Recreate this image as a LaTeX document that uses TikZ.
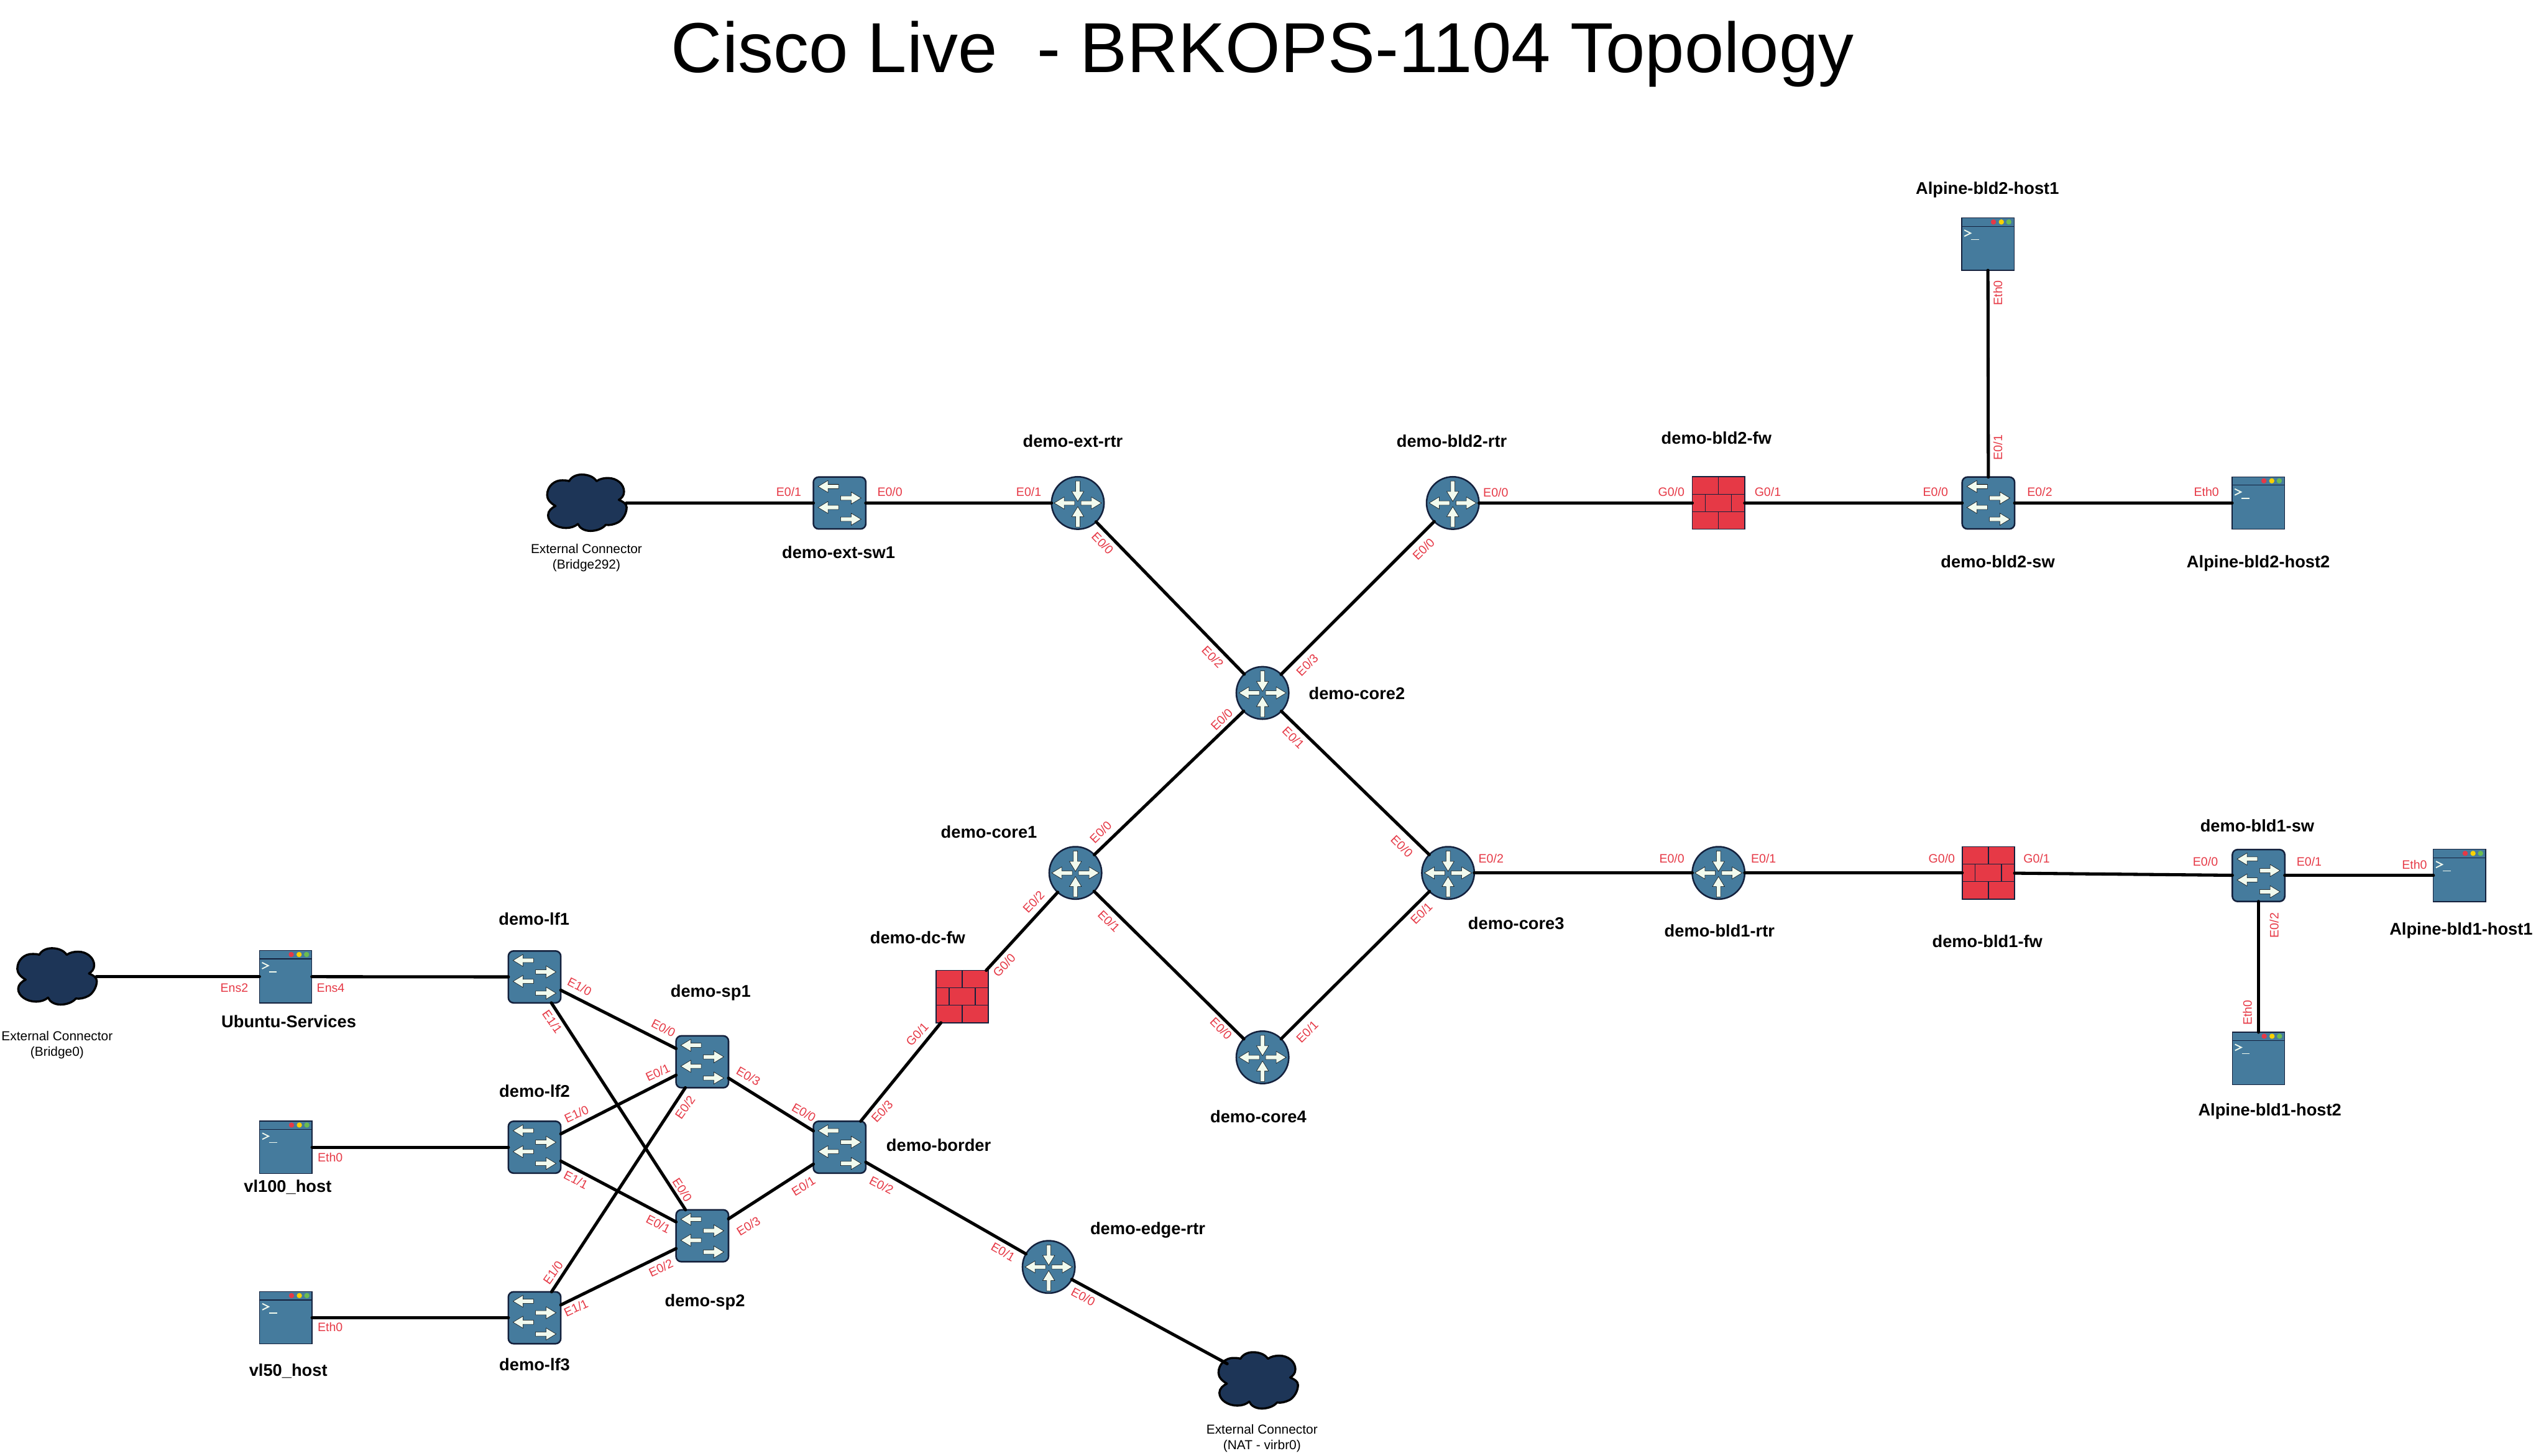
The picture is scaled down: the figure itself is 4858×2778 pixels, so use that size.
\documentclass[tikz,border=0pt]{standalone}
\usepackage{fontspec}
\setmainfont{Liberation Sans}
\usetikzlibrary{shapes.geometric}
\definecolor{devblue}{HTML}{457B9D}
\definecolor{devdark}{HTML}{14213D}
\definecolor{fwred}{HTML}{E63946}
\definecolor{portred}{HTML}{E63946}
\definecolor{cloudnavy}{HTML}{1D3557}
\definecolor{iconwhite}{HTML}{F1FAEE}
\definecolor{dotyellow}{HTML}{F9D100}
\definecolor{dotgreen}{HTML}{6CBC4F}
\tikzset{
  switchbox/.style={draw=devdark,fill=devblue,line width=0.03cm,rectangle,rounded corners=0.1cm,minimum width=1cm,minimum height=0.99cm,inner sep=0pt,outer sep=0pt},
  routerbox/.style={draw=devdark,fill=devblue,line width=0.03cm,circle,minimum size=1cm,inner sep=0pt,outer sep=0pt},
  hostbox/.style={draw=devdark,fill=devblue,line width=0.017cm,rectangle,minimum width=1cm,minimum height=1cm,inner sep=0pt,outer sep=0pt},
  fwbox/.style={draw=devdark,fill=fwred,line width=0.02cm,rectangle,minimum width=1cm,minimum height=1cm,inner sep=0pt,outer sep=0pt},
  cloudbox/.style={ellipse,minimum width=1.5cm,minimum height=1.06cm,inner sep=0pt,outer sep=0pt},
  devname/.style={font=\fontsize{9.2pt}{11pt}\selectfont\bfseries,text=black,inner sep=0pt,text height=6.7pt,text depth=0pt},
  portname/.style={font=\fontsize{6.6pt}{8pt}\selectfont,text=portred,inner sep=0pt,text height=4.75pt,text depth=0pt},
  cloudname/.style={font=\fontsize{7.05pt}{8.5pt}\selectfont,text=black,inner sep=0pt,align=center},
  titlename/.style={font=\fontsize{38.4pt}{44pt}\selectfont,text=black,inner sep=0pt,text height=27.6pt,text depth=0pt},
  link/.style={draw=black,line width=0.06cm,line cap=round},
  iconarrow/.style={draw=black,fill=iconwhite,line width=0.006cm,line join=miter},
  fwline/.style={draw=devdark,line width=0.015cm},
  cloudshape/.style={draw=black,fill=cloudnavy,line width=0.04cm,line join=round},
}
\newcommand{\ArrowL}[2]{\draw[iconarrow] (#1,#2) -- ++(19,-11.5) -- ++(0,7.5) -- ++(20,0) -- ++(0,8) -- ++(-20,0) -- ++(0,7.5) -- cycle;}
\newcommand{\ArrowR}[2]{\draw[iconarrow] (#1,#2) -- ++(-19,-11.5) -- ++(0,7.5) -- ++(-20,0) -- ++(0,8) -- ++(20,0) -- ++(0,7.5) -- cycle;}
\newcommand{\ArrowU}[2]{\draw[iconarrow] (#1,#2) -- ++(-11.5,19) -- ++(7.5,0) -- ++(0,20) -- ++(8,0) -- ++(0,-20) -- ++(7.5,0) -- cycle;}
\newcommand{\ArrowD}[2]{\draw[iconarrow] (#1,#2) -- ++(-11.5,-19) -- ++(7.5,0) -- ++(0,-20) -- ++(8,0) -- ++(0,20) -- ++(7.5,0) -- cycle;}
\newcommand{\switchicon}[1]{\begin{scope}[shift={(#1)}]\ArrowL{-41}{-31.5}\ArrowR{41}{-9.5}\ArrowL{-41}{8.5}\ArrowR{41}{31}\end{scope}}
\newcommand{\routericon}[1]{\begin{scope}[shift={(#1)}]\ArrowD{0}{-3}\ArrowU{0}{7}\ArrowL{-45}{0}\ArrowR{45}{0}\end{scope}}
\newcommand{\hosticon}[1]{\begin{scope}[shift={(#1)}]
  \draw[devdark,line width=0.015cm] (-50,-34) -- (50,-34);
  \fill[fwred] (10.7,-42.3) circle (5);
  \fill[dotyellow] (25.7,-42.3) circle (5);
  \fill[dotgreen] (40,-42.3) circle (5);
  \draw[iconwhite,line width=0.022cm] (-45,-27) -- (-33,-21) -- (-45,-15);
  \draw[iconwhite,line width=0.018cm] (-32,-9) -- (-17,-9);
\end{scope}}
\newcommand{\fwicon}[1]{\begin{scope}[shift={(#1)}]
  \draw[fwline] (-50,-16.7) -- (50,-16.7) (-50,16.7) -- (50,16.7);
  \draw[fwline] (0,-50) -- (0,-16.7) (0,16.7) -- (0,50);
  \draw[fwline] (-25,-16.7) -- (-25,16.7) (25,-16.7) -- (25,16.7);
\end{scope}}
\newcommand{\cloudicon}[1]{\begin{scope}[shift={(#1)}]
  \draw[cloudshape] (-60,5.7) .. controls (-70,0) and (-76,-7) .. (-76,-15)
   .. controls (-76,-32) and (-62,-44) .. (-46.7,-43.3)
   .. controls (-42,-43.3) and (-37,-43) .. (-34,-41.7)
   .. controls (-30,-50) and (-20,-54.3) .. (-10,-54.3)
   .. controls (2,-54.3) and (13,-50) .. (18.3,-41.7)
   .. controls (24,-46) and (32,-47.7) .. (40,-47.7)
   .. controls (57,-47.7) and (70.7,-36) .. (70.7,-21.7)
   .. controls (70.7,-14) and (66,-9) .. (60.7,-6)
   .. controls (68,-3) and (75.7,1) .. (75.7,8.3)
   .. controls (75.7,20) and (68,32) .. (60,36.7)
   .. controls (52,41) and (43,43) .. (35.7,41.7)
   .. controls (30,49) and (18,53.3) .. (6.7,53.3)
   .. controls (-5,53.3) and (-14,48) .. (-17.3,40)
   .. controls (-23,45) and (-31,47.7) .. (-40,47.7)
   .. controls (-58,47.7) and (-74.3,37) .. (-74.3,23.3)
   .. controls (-74.3,15) and (-67,9) .. (-60,5.7) -- cycle;
\end{scope}}
\newcounter{portc}
\newcommand{\portlbl}[4]{\stepcounter{portc}\node[portname,rotate=#3] (port\arabic{portc}) at (#1,#2) {#4};}
\newcommand{\devlbl}[4]{\node[devname] (#1) at (#2,#3) {#4};}
\begin{document}
\begin{tikzpicture}[x=0.01cm,y=-0.01cm]
\useasboundingbox (0,0) rectangle (4858,2778);
\fill[white] (0,0) rectangle (4858,2778);
\node[titlename] (title) at (2409,90) {Cisco Live\ \ - BRKOPS-1104 Topology};
% clouds
\node[cloudbox] (cloudA) at (109,1864) {};
\node[cloudbox] (cloudB) at (1120,960) {};
\node[cloudbox] (cloudC) at (2401,2635) {};
\cloudicon{cloudA}\cloudicon{cloudB}\cloudicon{cloudC}
% switches
\foreach \n/\x/\y in {lfA/1020/1864.5, lfB/1020/2189.5, lfC/1020/2515, spA/1340/2026.5, spB/1340/2358.5, border/1602/2189.5, extsw/1602/960, bldBsw/3794/960, bldAsw/4309.5/1671}{
  \node[switchbox] (\n) at (\x,\y) {};
  \switchicon{\n}
}
% routers
\foreach \n/\x/\y in {extrtr/2056.5/960, bldBrtr/2772/960, coreB/2409/1322.5, coreA/2052/1666, coreC/2763/1666, coreD/2409/2018, bldArtr/3279/1666, edgertr/2001/2418}{
  \node[routerbox] (\n) at (\x,\y) {};
  \routericon{\n}
}
% firewalls
\foreach \n/\x/\y in {dcfw/1836/1902, bldBfw/3279/960, bldAfw/3794/1666}{
  \node[fwbox] (\n) at (\x,\y) {};
  \fwicon{\n}
}
% hosts
\foreach \n/\x/\y in {ubuntu/545/1864, vlC/545.5/2189.5, vlD/545.5/2515, hostBa/3793/466, hostBb/4309/960, hostAa/4693/1671, hostAb/4309.5/2020}{
  \node[hostbox] (\n) at (\x,\y) {};
  \hosticon{\n}
}
% connectors
\draw[link] (cloudA) -- (ubuntu);
\draw[link] (ubuntu) -- (lfA);
\draw[link] (vlC) -- (lfB);
\draw[link] (vlD) -- (lfC);
\draw[link] (lfA) -- (spA);
\draw[link] (lfA) -- (spB);
\draw[link] (lfB) -- (spA);
\draw[link] (lfB) -- (spB);
\draw[link] (lfC) -- (spA);
\draw[link] (lfC) -- (spB);
\draw[link] (spA) -- (border);
\draw[link] (spB) -- (border);
\draw[link] (border) -- (dcfw);
\draw[link] (border) -- (edgertr);
\draw[link] (edgertr) -- (cloudC);
\draw[link] (dcfw) -- (coreA);
\draw[link] (coreA) -- (coreB);
\draw[link] (coreA) -- (coreD);
\draw[link] (coreB) -- (coreC);
\draw[link] (coreD) -- (coreC);
\draw[link] (coreB) -- (extrtr);
\draw[link] (coreB) -- (bldBrtr);
\draw[link] (cloudB) -- (extsw);
\draw[link] (extsw) -- (extrtr);
\draw[link] (bldBrtr) -- (bldBfw);
\draw[link] (bldBfw) -- (bldBsw);
\draw[link] (bldBsw) -- (hostBa);
\draw[link] (bldBsw) -- (hostBb);
\draw[link] (coreC) -- (bldArtr);
\draw[link] (bldArtr) -- (bldAfw);
\draw[link] (bldAfw) -- (bldAsw);
\draw[link] (bldAsw) -- (hostAa);
\draw[link] (bldAsw) -- (hostAb);
% cloud labels
\node[cloudname] (cloudAlbl) at (109,1994) {External Connector\\(Bridge0)};
\node[cloudname] (cloudBlbl) at (1119,1065) {External Connector\\(Bridge292)};
\node[cloudname] (cloudClbl) at (2408,2745) {External Connector\\(NAT - virbr0)};
% device labels
\devlbl{nLfA}{1019}{1754}{demo-lf1}
\devlbl{nSpA}{1356}{1891}{demo-sp1}
\devlbl{nLfB}{1020}{2082}{demo-lf2}
\devlbl{nSpB}{1345}{2482}{demo-sp2}
\devlbl{nLfC}{1020}{2604}{demo-lf3}
\devlbl{nBorder}{1791}{2185}{demo-border}
\devlbl{nDcfw}{1751}{1789}{demo-dc-fw}
\devlbl{nCoreA}{1887}{1587}{demo-core1}
\devlbl{nCoreB}{2589}{1323.5}{demo-core2}
\devlbl{nCoreC}{2893}{1762}{demo-core3}
\devlbl{nCoreD}{2401}{2131}{demo-core4}
\devlbl{nEdge}{2190}{2344}{demo-edge-rtr}
\devlbl{nExtsw}{1600}{1054}{demo-ext-sw1}
\devlbl{nExtrtr}{2047}{842}{demo-ext-rtr}
\devlbl{nBldBrtr}{2770}{841}{demo-bld2-rtr}
\devlbl{nBldBfw}{3275}{836}{demo-bld2-fw}
\devlbl{nBldBsw}{3812}{1072}{demo-bld2-sw}
\devlbl{nHostBa}{3792}{359}{Alpine-bld2-host1}
\devlbl{nHostBb}{4309}{1072}{Alpine-bld2-host2}
\devlbl{nBldArtr}{3281}{1776}{demo-bld1-rtr}
\devlbl{nBldAfw}{3792}{1796}{demo-bld1-fw}
\devlbl{nBldAsw}{4307}{1576}{demo-bld1-sw}
\devlbl{nHostAa}{4696}{1773}{Alpine-bld1-host1}
\devlbl{nHostAb}{4331}{2118}{Alpine-bld1-host2}
\devlbl{nUbuntu}{551}{1949}{Ubuntu-Services}
\devlbl{nVlC}{549}{2264}{vl100\_host}
\devlbl{nVlD}{550}{2615}{vl50\_host}
% port labels
\portlbl{447}{1885}{0}{Ens2}
\portlbl{631}{1885}{0}{Ens4}
\portlbl{630}{2209}{0}{Eth0}
\portlbl{630}{2533}{0}{Eth0}
\portlbl{1106}{1883}{-27}{E1/0}
\portlbl{1054}{1950}{-55}{E1/1}
\portlbl{1266}{1962}{-27}{E0/0}
\portlbl{1255}{2047}{25}{E0/1}
\portlbl{1428}{2054}{-30}{E0/3}
\portlbl{1307}{2113}{55}{E0/2}
\portlbl{1534}{2123}{-30}{E0/0}
\portlbl{1683}{2121}{47}{E0/3}
\portlbl{1100}{2126}{25}{E1/0}
\portlbl{1099}{2252}{-27}{E1/1}
\portlbl{1302}{2271}{-57}{E0/0}
\portlbl{1256}{2336}{-27}{E0/1}
\portlbl{1533}{2264}{32}{E0/1}
\portlbl{1682}{2262}{-27}{E0/2}
\portlbl{1428}{2340}{32}{E0/3}
\portlbl{1261}{2420}{25}{E0/2}
\portlbl{1055}{2429}{55}{E1/0}
\portlbl{1099}{2496}{25}{E1/1}
\portlbl{1750}{1974}{47}{G0/1}
\portlbl{1916}{1842}{47}{G0/0}
\portlbl{1972}{1721}{47}{E0/2}
\portlbl{2100}{1588}{45}{E0/0}
\portlbl{2116}{1758}{-45}{E0/1}
\portlbl{2331}{1373}{45}{E0/0}
\portlbl{2468}{1408}{-45}{E0/1}
\portlbl{2314}{1254}{-46}{E0/2}
\portlbl{2494}{1269}{45}{E0/3}
\portlbl{2330}{1963}{-45}{E0/0}
\portlbl{2494}{1969}{45}{E0/1}
\portlbl{2675}{1615}{-45}{E0/0}
\portlbl{2712}{1743}{45}{E0/1}
\portlbl{2845}{1639}{0}{E0/2}
\portlbl{3190}{1639}{0}{E0/0}
\portlbl{3365}{1639}{0}{E0/1}
\portlbl{3705}{1639}{0}{G0/0}
\portlbl{3886}{1639}{0}{G0/1}
\portlbl{4208}{1644}{0}{E0/0}
\portlbl{4406}{1644}{0}{E0/1}
\portlbl{4607}{1650}{0}{Eth0}
\portlbl{4339}{1766}{90}{E0/2}
\portlbl{4288}{1933}{90}{Eth0}
\portlbl{1505}{939}{0}{E0/1}
\portlbl{1698}{939}{0}{E0/0}
\portlbl{1963}{939}{0}{E0/1}
\portlbl{2104}{1037}{-46}{E0/0}
\portlbl{2716}{1048}{45}{E0/0}
\portlbl{2854}{940}{0}{E0/0}
\portlbl{3189}{939}{0}{G0/0}
\portlbl{3373}{939}{0}{G0/1}
\portlbl{3693}{939}{0}{E0/0}
\portlbl{3892}{939}{0}{E0/2}
\portlbl{3812}{854}{90}{E0/1}
\portlbl{3812}{559}{90}{Eth0}
\portlbl{4210}{939}{0}{Eth0}
\portlbl{1914}{2389}{-30}{E0/1}
\portlbl{2067}{2475}{-28}{E0/0}
\end{tikzpicture}
\end{document}
